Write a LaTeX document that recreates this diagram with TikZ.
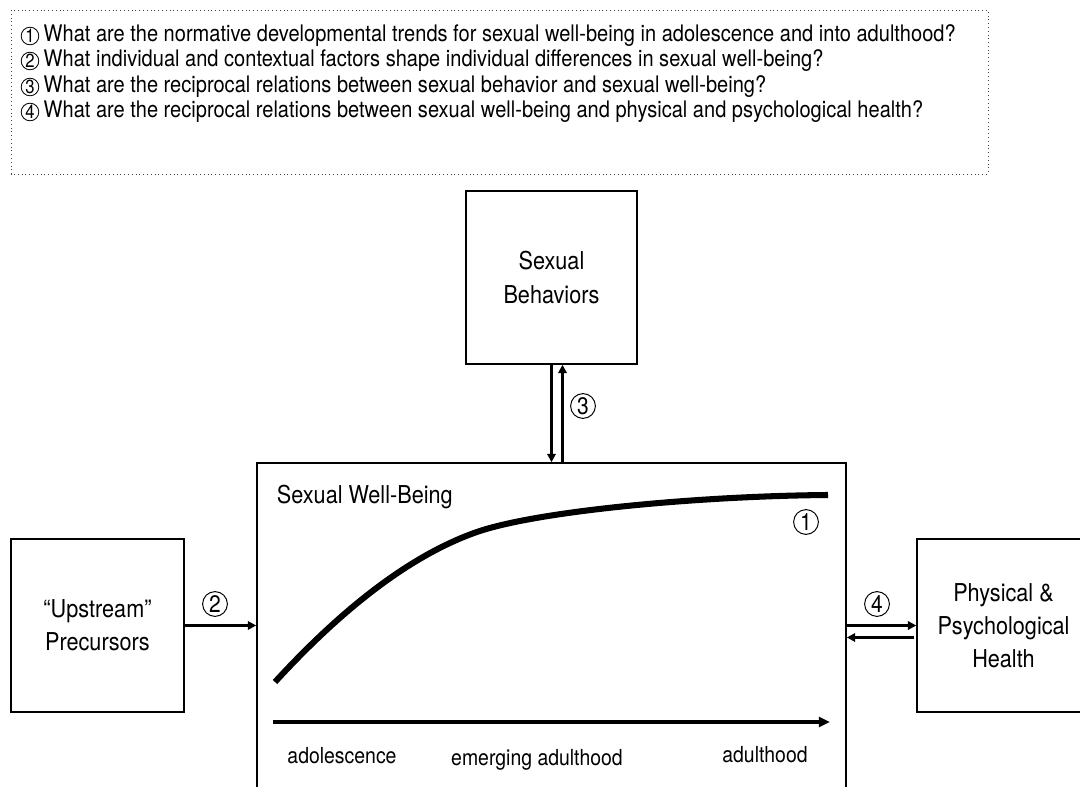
\documentclass[tikz,border=0pt]{standalone}
\usepackage{fontspec}
\setmainfont{TeX Gyre Heros}[FakeStretch=0.88]
\usetikzlibrary{arrows.meta,positioning,calc}

\tikzset{
  box/.style={draw, line width=1pt, minimum width=4.325cm, minimum height=4.325cm,
    align=center, font=\fontsize{17.5}{23.5}\selectfont},
  qtext/.style={anchor=west, inner sep=0pt, font=\fontsize{16.2}{18}\selectfont},
  qnum/.style={circle, draw, line width=0.6pt, inner sep=0pt, minimum size=0.44cm,
    font=\fontsize{13.5}{14}\selectfont},
  num/.style={circle, draw, line width=0.7pt, inner sep=0pt, minimum size=0.62cm,
    font=\fontsize{17}{18}\selectfont},
  arr/.style={-{Triangle[length=6pt,width=6pt]}, line width=1.8pt},
  lbl/.style={font=\fontsize{15.7}{18}\selectfont, anchor=base},
}

\begin{document}
\begin{tikzpicture}[x=0.025cm, y=-0.025cm]
    \clip (0,0) rectangle (1080,787);

    % research questions
    \draw[dotted, line width=0.7pt, black!75] (11,10) rectangle (988,174);
    \node[qnum] (c1) at (30,36) {1};
    \node[qnum] (c2) at (30,61) {2};
    \node[qnum] (c3) at (30,87) {3};
    \node[qnum] (c4) at (30,112) {4};
    \node[qtext, right=3pt of c1] (q1) {What are the normative developmental trends for sexual well-being in adolescence and into adulthood?};
    \node[qtext, right=3pt of c2] (q2) {What individual and contextual factors shape individual differences in sexual well-being?};
    \node[qtext, right=3pt of c3] (q3) {What are the reciprocal relations between sexual behavior and sexual well-being?};
    \node[qtext, right=3pt of c4] (q4) {What are the reciprocal relations between sexual well-being and physical and psychological health?};

    % boxes
    \node[box, minimum width=14.725cm, minimum height=8.425cm] (wb) at (551.5,631.5) {};
    \node[box, minimum width=4.275cm] (behav) at (551.5,277.5) {Sexual\\Behaviors};
    \node[box] (up) at (97.5,625.5) {``Upstream''\\Precursors};
    \node[box] (health) at (1003.5,625.5) {Physical \&\\Psychological\\Health};

    \node[anchor=west, font=\fontsize{17.5}{20}\selectfont] (wbtitle) at (272,497) {Sexual Well-Being};

    % arrows
    \draw[arr] (up.east) -- (up.east -| wb.west);
    \draw[arr] (behav.south) -- (behav.south |- wb.north);
    \draw[arr] ($(behav.south |- wb.north)+(11,0)$) -- ($(behav.south)+(11,0)$);
    \draw[arr] (health.west -| wb.east) -- (health.west);
    \draw[arr] ($(health.west)+(-2,12)$) -- ($(health.west -| wb.east)+(0,12)$);

    \node[num] (n1) at (806,522) {1};
    \node[num] (n2) at (215,604) {2};
    \node[num] (n3) at (583,406) {3};
    \node[num] (n4) at (877,604) {4};

    % developmental curve
    \draw[line width=4.3pt] (275,682) .. controls (341,610) and (408,557) .. (474,533)
      .. controls (534,511) and (700,496) .. (828,495);

    % time axis
    \coordinate (t0) at (273,722);
    \coordinate (t1) at (830,722);
    \draw[-{Triangle[length=8pt,width=7pt]}, line width=2.2pt] (t0) -- (t1);
    \node[lbl] (adol) at (342,763) {adolescence};
    \node[lbl] (emerg) at (537,765) {emerging adulthood};
    \node[lbl] (adult) at (765,762) {adulthood};
\end{tikzpicture}
\end{document}
